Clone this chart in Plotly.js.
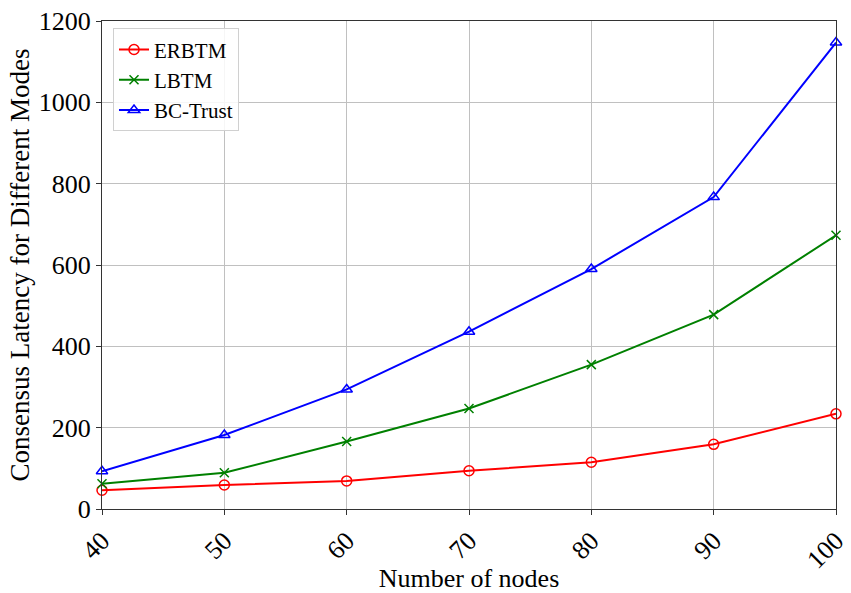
<!DOCTYPE html>
<html>
<head>
<meta charset="utf-8">
<script src="https://cdn.plot.ly/plotly-3.0.1.min.js"></script>
<style>html,body{margin:0;padding:0;background:#fff;}#chart{width:851px;height:593px;}</style>
</head>
<body>
<div id="chart"></div>
<script>
var nodes = [40, 50, 60, 70, 80, 90, 100];
var erbtm = [46, 59, 69, 94, 115, 159, 234];
var lbtm = [62, 89, 166, 247, 355, 478, 673];
var bcTrust = [93, 182, 294, 436, 590, 767, 1147];
var xTicks = [40, 50, 60, 70, 80, 90, 100];
var yTicks = [0, 200, 400, 600, 800, 1000, 1200];

var font = 'Liberation Serif, Times New Roman, serif';

var traces = [
  {x: nodes, y: erbtm, name: 'ERBTM', mode: 'lines+markers',
   line: {color: '#ff0000', width: 2},
   marker: {symbol: 'circle-open', size: 10, color: '#ff0000', line: {width: 1.5}}, cliponaxis: false},
  {x: nodes, y: lbtm, name: 'LBTM', mode: 'lines+markers',
   line: {color: '#008000', width: 2},
   marker: {symbol: 'x-thin-open', size: 9, color: '#008000', line: {width: 1.5, color: '#008000'}}, cliponaxis: false},
  {x: nodes, y: bcTrust, name: 'BC-Trust', mode: 'lines+markers',
   line: {color: '#0000ff', width: 2},
   marker: {symbol: 'triangle-up-open', size: 10, color: '#0000ff', line: {width: 1.5}}, cliponaxis: false}
];

var layout = {
  width: 851, height: 593,
  margin: {l: 102, r: 15, t: 21, b: 84},
  paper_bgcolor: '#ffffff', plot_bgcolor: '#ffffff',
  font: {family: font, color: '#000'},
  showlegend: true,
  legend: {x: 0.015, y: 0.985, xanchor: 'left', yanchor: 'top',
    bgcolor: 'rgba(255,255,255,0.85)', bordercolor: '#d0d0d0', borderwidth: 1,
    font: {family: font, size: 21}, tracegroupgap: 0},
  xaxis: {
    range: [40, 100], tickvals: xTicks, ticktext: xTicks.map(String),
    tickangle: -45, tickfont: {family: font, size: 26},
    showgrid: true, gridcolor: '#c0c0c0', gridwidth: 1,
    showline: true, linecolor: '#333', linewidth: 1.2, mirror: true,
    ticks: 'outside', ticklen: 5, tickcolor: '#333', zeroline: false,
    title: {text: 'Number of nodes', font: {family: font, size: 26}, standoff: 4}
  },
  yaxis: {
    range: [0, 1200], tickvals: yTicks, ticktext: yTicks.map(String),
    tickfont: {family: font, size: 26},
    showgrid: true, gridcolor: '#c0c0c0', gridwidth: 1,
    showline: true, linecolor: '#333', linewidth: 1.2, mirror: true,
    ticks: 'outside', ticklen: 5, tickcolor: '#333', zeroline: false,
    title: {text: 'Consensus Latency for Different Modes', font: {family: font, size: 27}, standoff: 1}
  }
};

Plotly.newPlot('chart', traces, layout, {displayModeBar: false, responsive: false});
</script>
</body>
</html>
